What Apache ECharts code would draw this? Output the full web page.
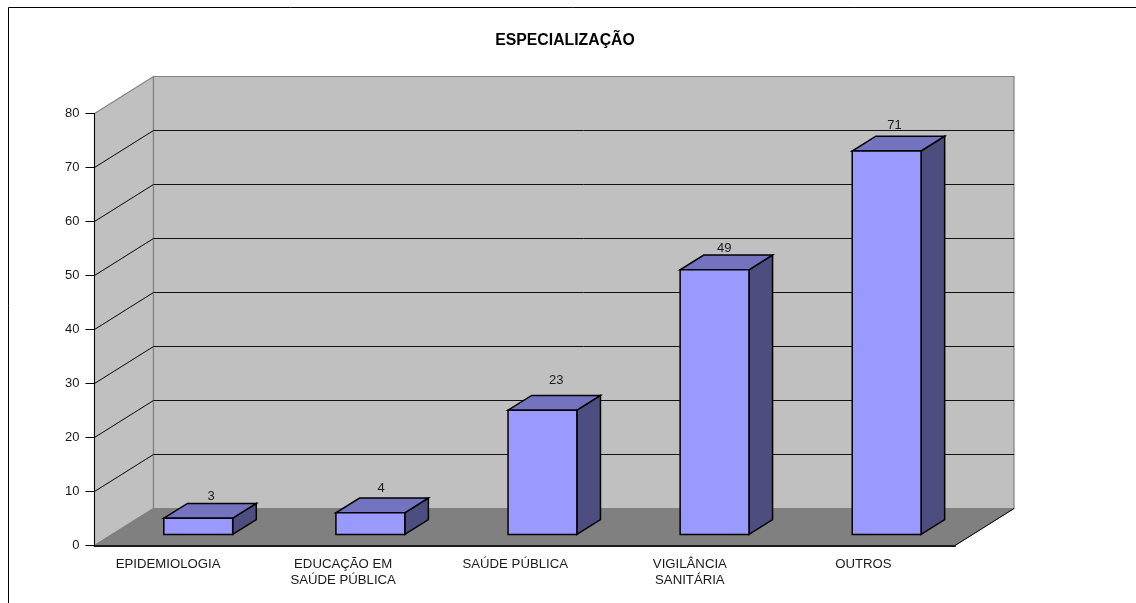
<!DOCTYPE html>
<html>
<head>
<meta charset="utf-8">
<style>html,body{margin:0;padding:0;background:#fff}#c{width:1136px;height:603px}</style>
<script src="https://cdn.jsdelivr.net/npm/echarts@6/dist/echarts.min.js"></script>
</head>
<body>
<div id="c"></div>
<script>
const categories = ['EPIDEMIOLOGIA', 'EDUCAÇÃO EM\nSAÚDE PÚBLICA', 'SAÚDE PÚBLICA', 'VIGILÂNCIA\nSANITÁRIA', 'OUTROS'];
const values = [3, 4, 23, 49, 71];
const yTicks = [0, 10, 20, 30, 40, 50, 60, 70, 80];

const FONT = '"Liberation Sans", Arial, sans-serif';
const DX = 59, DY = -37;           // depth of the 3D box
const BAR_W = 0.4, BAR_D0 = 0.3, BAR_D1 = 0.4;
const catShift = [25, 19, 19, 14, 11];    // right padding that shifts a category label left
const numDx = [1, -1, 2, -2, -4], numDy = [-6.5, -9.5, -15, -7, -10.5];

const chart = echarts.init(document.getElementById('c'), null, {renderer: 'canvas'});

function poly(points, fill, stroke, lw) {
  return {type: 'polygon', shape: {points}, style: {fill, stroke: stroke || fill, lineWidth: lw == null ? 1 : lw}};
}
function seg(a, b, stroke, lw) {
  return {type: 'line', shape: {x1: a[0], y1: a[1], x2: b[0], y2: b[1]}, style: {stroke, lineWidth: lw || 1}};
}

function renderWalls(params, api) {
  const size = api.size([1, 0])[0];
  const cx = api.coord([0, 0])[0] - size / 2;
  const right = cx + size * categories.length;
  const y0 = api.coord([0, 0])[1];
  const yTop = api.coord([0, 80])[1];
  const kids = [
    poly([[cx, y0], [cx + DX, y0 + DY], [cx + DX, yTop + DY], [cx, yTop]], '#C0C0C0', '#808080', 1.2),
    poly([[cx + DX, y0 + DY], [right + DX, y0 + DY], [right + DX, yTop + DY], [cx + DX, yTop + DY]], '#C0C0C0', '#808080', 1.2),
    poly([[cx, y0], [right, y0], [right + DX, y0 + DY], [cx + DX, y0 + DY]], '#808080', '#808080', 1)
  ];
  yTicks.forEach(v => {
    if (v === 0 || v === 80) return;
    const y = api.coord([0, v])[1];
    kids.push(seg([cx, y], [cx + DX, y + DY], '#000', 1));
    kids.push(seg([cx + DX, y + DY], [right + DX, y + DY], '#111', 1));
  });
  kids.push(seg([right, y0], [right + DX, y0 + DY], '#000', 1));
  return {type: 'group', children: kids};
}

function renderBar(params, api) {
  const i = api.value(0), v = api.value(1);
  const size = api.size([1, 0])[0];
  const base = api.coord([i, 0]), top = api.coord([i, v]);
  const w = size * BAR_W;
  const ox = DX * BAR_D0, oy = DY * BAR_D0;
  const sx = DX * BAR_D1, sy = DY * BAR_D1;
  const l = base[0] - w / 2 + ox, r = l + w;
  const b = base[1] + oy, t = top[1] + oy;
  const s = {stroke: '#000', lw: 1.5};
  return {type: 'group', children: [
    poly([[r, b], [r + sx, b + sy], [r + sx, t + sy], [r, t]], '#4D4D80', s.stroke, s.lw),
    poly([[l, t], [r, t], [r + sx, t + sy], [l + sx, t + sy]], '#7373BF', s.stroke, s.lw),
    poly([[l, b], [r, b], [r, t], [l, t]], '#9999FF', s.stroke, s.lw),
    {type: 'text', style: {
      text: String(v), x: (l + r + sx) / 2 + numDx[i], y: t + sy + numDy[i],
      fill: '#1a1a1a', font: '13px ' + FONT, textAlign: 'center', textVerticalAlign: 'middle'
    }}
  ]};
}

const rich = {};
categories.forEach((c, i) => {
  rich['c' + i] = {fontFamily: FONT, fontSize: 13.2, lineHeight: 16, color: '#1a1a1a', padding: [0, catShift[i], 0, 0]};
});

chart.setOption({
  animation: false,
  backgroundColor: '#fff',
  title: {
    text: 'ESPECIALIZAÇÃO', left: 560, top: 28, textAlign: 'center',
    textStyle: {fontFamily: FONT, fontSize: 15.8, fontWeight: 'bold', color: '#000'}
  },
  grid: {left: 94.5, right: 1136 - 955, top: 113.5, bottom: 603 - 545.5},
  xAxis: {
    type: 'category', data: categories, boundaryGap: true,
    axisLine: {lineStyle: {color: '#1a1a1a', width: 2}},
    axisTick: {length: 7, lineStyle: {color: '#333'}},
    axisLabel: {
      interval: 0, margin: 11, hideOverlap: false,
      formatter: (val, idx) => val.split('\n').map(s => '{c' + idx + '|' + s + '}').join('\n'),
      rich
    },
    z: 5
  },
  yAxis: {
    type: 'value', min: 0, max: 80, interval: 10,
    axisLine: {show: true, lineStyle: {color: '#000', width: 1}},
    axisTick: {show: true, length: 9, lineStyle: {color: '#000'}},
    axisLabel: {margin: 15, fontFamily: FONT, fontSize: 13, color: '#1a1a1a'},
    splitLine: {show: false},
    z: 5
  },
  series: [
    {type: 'custom', coordinateSystem: 'cartesian2d', clip: false, silent: true, z: 1,
     data: [[0, 0]], encode: {x: 0, y: 1}, renderItem: renderWalls},
    {type: 'custom', coordinateSystem: 'cartesian2d', clip: false, silent: true, z: 2,
     data: values.map((v, i) => [i, v]), encode: {x: 0, y: 1}, renderItem: renderBar}
  ],
  graphic: [
    {type: 'line', shape: {x1: 8.5, y1: 7.5, x2: 1136, y2: 7.5}, style: {stroke: '#000', lineWidth: 1}},
    {type: 'line', shape: {x1: 8.5, y1: 7.5, x2: 8.5, y2: 603}, style: {stroke: '#000', lineWidth: 1}}
  ]
});
</script>
</body>
</html>
